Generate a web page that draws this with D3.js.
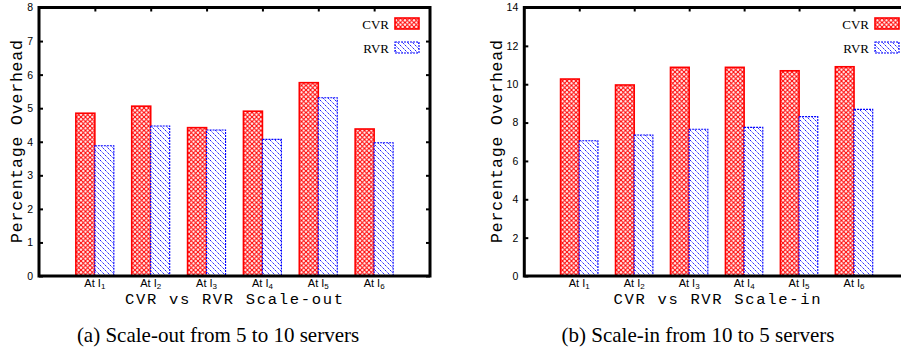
<!DOCTYPE html>
<html>
<head>
<meta charset="utf-8">
<script src="https://cdn.jsdelivr.net/npm/d3@7"></script>
<style>
  body { margin: 0; background: #fff; }
  svg { display: block; }
</style>
</head>
<body>
<div id="chart"></div>
<script>
const categories = ['1', '2', '3', '4', '5', '6']
const seriesNames = ['CVR', 'RVR']

const scaleOutCVR = [4.85, 5.06, 4.42, 4.91, 5.76, 4.38]
const scaleOutRVR = [3.88, 4.47, 4.35, 4.07, 5.31, 3.97]
const scaleInCVR = [10.27, 9.96, 10.88, 10.88, 10.70, 10.91]
const scaleInRVR = [7.05, 7.35, 7.65, 7.75, 8.31, 8.69]

const scaleOutTicks = [0, 1, 2, 3, 4, 5, 6, 7, 8]
const scaleInTicks = [0, 2, 4, 6, 8, 10, 12, 14]

const width = 901, height = 349

const svg = d3.select('#chart')
  .append('svg')
  .attr('width', width)
  .attr('height', height)

const defs = svg.append('defs')

// red cross hatch
const cross = defs.append('pattern')
  .attr('id', 'cross')
  .attr('patternUnits', 'userSpaceOnUse')
  .attr('width', 4.5)
  .attr('height', 4.5)
cross.append('rect').attr('width', 4.5).attr('height', 4.5).attr('fill', '#fff')
cross.append('path')
  .attr('d', 'M0,0L4.5,4.5M4.5,0L0,4.5')
  .attr('stroke', '#ff0000')
  .attr('stroke-width', 1.1)

// blue diagonal dashed hatch
const hatch = defs.append('pattern')
  .attr('id', 'hatch')
  .attr('patternUnits', 'userSpaceOnUse')
  .attr('width', 5)
  .attr('height', 5)
hatch.append('rect').attr('width', 5).attr('height', 5).attr('fill', '#fff')
hatch.append('path')
  .attr('d', 'M0,0L5,5M-1,4L1,6M4,-1L6,1')
  .attr('stroke', '#0000ff')
  .attr('stroke-width', 0.9)
  .attr('stroke-dasharray', '1.4,0.8')

const fills = ['url(#cross)', 'url(#hatch)']
const strokes = ['#ff0000', '#0000ff']
const dashes = [null, '2,1']

const drawPanel = (opts) => {
  const g = svg.append('g')

  const x = d3.scaleLinear().domain([-1, categories.length]).range([opts.left, opts.right])
  const y = d3.scaleLinear().domain([0, opts.ticks[opts.ticks.length - 1]]).range([opts.bottom, opts.top])
  const barW = 0.34 * (x(1) - x(0))

  const yAxis = d3.axisLeft(y).tickValues(opts.ticks).tickSize(-4).tickPadding(6)
  const yAxisR = d3.axisRight(y).tickValues(opts.ticks).tickSize(-4).tickFormat('')
  const xTop = d3.axisTop(x).tickValues(d3.range(categories.length)).tickSize(-4).tickFormat('')

  g.append('g')
    .attr('class', 'y axis')
    .attr('transform', 'translate(' + opts.left + ',0)')
    .call(yAxis)
  g.append('g')
    .attr('transform', 'translate(' + opts.right + ',0)')
    .call(yAxisR)
  g.append('g')
    .attr('transform', 'translate(0,' + opts.top + ')')
    .call(xTop)

  g.selectAll('.domain').remove()
  g.selectAll('.tick line').attr('stroke', '#000').attr('stroke-width', 2)
  g.selectAll('.y.axis text')
    .attr('font-family', 'Liberation Sans, Arial, sans-serif')
    .attr('font-size', 10.5)
    .attr('fill', '#000')

  const series = [opts.cvr, opts.rvr]
  series.forEach((vals, si) => {
    g.selectAll('rect.s' + si)
      .data(vals)
      .enter()
      .append('rect')
      .attr('class', 's' + si)
      .attr('x', (d, i) => x(i) - barW + si * barW)
      .attr('y', d => y(d))
      .attr('width', barW)
      .attr('height', d => y(0) - y(d))
      .attr('fill', fills[si])
      .attr('stroke', strokes[si])
      .attr('stroke-width', si === 0 ? 1.6 : 1.1)
      .attr('stroke-dasharray', dashes[si])
  })

  // category labels
  const labels = g.selectAll('text.cat')
    .data(categories)
    .enter()
    .append('text')
    .attr('class', 'cat')
    .attr('x', (d, i) => x(i))
    .attr('y', opts.bottom + 10.5)
    .attr('text-anchor', 'middle')
    .attr('font-family', 'Liberation Sans, Arial, sans-serif')
    .attr('font-size', 11)
  labels.append('tspan').text('At I')
  labels.append('tspan')
    .attr('dy', 2.5)
    .attr('font-size', 8)
    .text(d => d)

  // frame
  g.append('rect')
    .attr('x', opts.left)
    .attr('y', opts.top)
    .attr('width', opts.right - opts.left)
    .attr('height', opts.bottom - opts.top)
    .attr('fill', 'none')
    .attr('stroke', '#000')
    .attr('stroke-width', 3)

  // legend
  seriesNames.forEach((name, i) => {
    const ly = opts.legendY + i * 24
    g.append('text')
      .attr('x', opts.legendX - 6)
      .attr('y', ly + 4.5)
      .attr('text-anchor', 'end')
      .attr('font-family', 'Liberation Serif, Times New Roman, serif')
      .attr('font-size', 13)
      .text(name)
    g.append('rect')
      .attr('x', opts.legendX)
      .attr('y', ly - 6)
      .attr('width', 24)
      .attr('height', 11)
      .attr('fill', fills[i])
      .attr('stroke', strokes[i])
      .attr('stroke-width', i === 0 ? 1.6 : 1.1)
      .attr('stroke-dasharray', dashes[i])
  })

  // axis titles
  g.append('text')
    .attr('x', opts.xTitleX)
    .attr('y', 304)
    .attr('text-anchor', 'middle')
    .attr('font-family', 'Liberation Mono, Courier New, monospace')
    .attr('font-size', 15.5)
    .attr('textLength', opts.xTitleW)
    .attr('lengthAdjust', 'spacing')
    .text(opts.xTitle)

  g.append('text')
    .attr('transform', 'translate(' + opts.yTitleX + ',' + 141.5 + ') rotate(-90)')
    .attr('text-anchor', 'middle')
    .attr('font-family', 'Liberation Mono, Courier New, monospace')
    .attr('font-size', 16.5)
    .attr('textLength', 203)
    .attr('lengthAdjust', 'spacing')
    .text('Percentage Overhead')

  g.append('text')
    .attr('x', opts.captionX)
    .attr('y', 341.5)
    .attr('text-anchor', 'middle')
    .attr('font-family', 'Liberation Serif, Times New Roman, serif')
    .attr('font-size', 21)
    .text(opts.caption)
}

drawPanel({
  left: 39, right: 430, top: 7.5, bottom: 276,
  ticks: scaleOutTicks, cvr: scaleOutCVR, rvr: scaleOutRVR,
  legendX: 395, legendY: 24,
  xTitle: 'CVR vs RVR Scale-out', xTitleX: 234, xTitleW: 218, yTitleX: 22,
  caption: '(a) Scale-out from 5 to 10 servers', captionX: 218
})

drawPanel({
  left: 524.3, right: 909, top: 7.5, bottom: 276,
  ticks: scaleInTicks, cvr: scaleInCVR, rvr: scaleInRVR,
  legendX: 875, legendY: 24,
  xTitle: 'CVR vs RVR Scale-in', xTitleX: 717, xTitleW: 207, yTitleX: 502,
  caption: '(b) Scale-in from 10 to 5 servers', captionX: 698
})
</script>
</body>
</html>
